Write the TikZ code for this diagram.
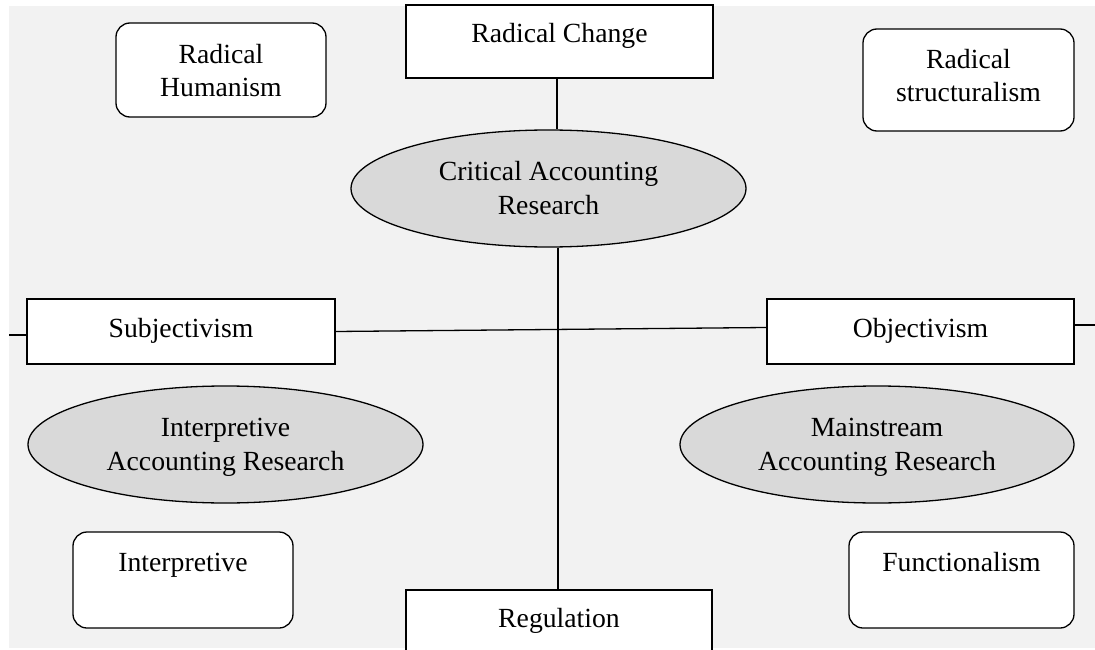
\documentclass[tikz,border=0pt]{standalone}
\usepackage{fontspec}
\setmainfont{Liberation Serif}
\usetikzlibrary{shapes.geometric}
\definecolor{panel}{RGB}{242,242,242}
\definecolor{ovalgray}{RGB}{217,217,217}
\tikzset{
  every node/.style={inner sep=0pt},
  sqbox/.style={rectangle, draw=black, line width=1.3pt, fill=white},
  rbox/.style={rectangle, rounded corners=14pt, draw=black, line width=1.3pt, fill=white},
  oval/.style={ellipse, draw=black, line width=1.3pt, fill=ovalgray},
  lbl/.style={anchor=base, font=\fontsize{27.7}{34}\selectfont},
  wire/.style={draw=black, line width=1.3pt}
}
\begin{document}
\begin{tikzpicture}[x=1pt, y=-1pt]
  \useasboundingbox (0,0) rectangle (1095,650);
  \clip (0,0) rectangle (1095,650);
  % panel
  \fill[panel] (9,6) rectangle (1095,648);

  % axis boxes
  \node[sqbox, minimum width=307pt, minimum height=73pt] (rc) at (559.5,41.5) {};
  \node[sqbox, minimum width=306pt, minimum height=120pt] (reg) at (559,650) {};
  \node[sqbox, minimum width=308pt, minimum height=65pt] (subj) at (181,331.5) {};
  \node[sqbox, minimum width=307pt, minimum height=65pt] (obj) at (920.5,331.5) {};

  % paradigm boxes
  \node[rbox, minimum width=210pt, minimum height=94pt] (rh) at (221,70) {};
  \node[rbox, minimum width=211pt, minimum height=102pt] (rs) at (968.5,80) {};
  \node[rbox, minimum width=220pt, minimum height=96pt] (ib) at (183,580) {};
  \node[rbox, minimum width=225pt, minimum height=96pt] (fb) at (961.5,580) {};

  % research ovals
  \node[oval, minimum width=395pt, minimum height=117pt] (cr) at (548.5,188.5) {};
  \node[oval, minimum width=395pt, minimum height=117pt] (ie) at (225.5,444.5) {};
  \node[oval, minimum width=394pt, minimum height=117pt] (me) at (877,444.5) {};

  % connectors
  \coordinate (leftend) at (9,335);
  \coordinate (rightend) at (1095,325);
  \draw[wire] ([xshift=-2.5pt]rc.south) -- ([xshift=-2.5pt]rc.south |- cr.north);
  \draw[wire] ([xshift=9.5pt]cr.south) -- ([xshift=9.5pt]cr.south |- reg.north);
  \draw[wire] (subj.east) -- ([yshift=4pt]obj.west);
  \draw[wire] (leftend) -- (leftend -| subj.west);
  \draw[wire] (rightend -| obj.east) -- (rightend);

  % labels
  \node[lbl] (trc) at (559.5,42.5) {Radical Change};
  \node[lbl] (treg) at (559,627) {Regulation};
  \node[lbl] (tsubj) at (181,337) {Subjectivism};
  \node[lbl] (tobj) at (920.5,337) {Objectivism};
  \node[lbl] (trh1) at (221,63.3) {Radical};
  \node[lbl] (trh2) at (221,96.7) {Humanism};
  \node[lbl] (trs1) at (968.5,68.5) {Radical};
  \node[lbl] (trs2) at (968.5,102) {structuralism};
  \node[lbl] (tib) at (183,571.5) {Interpretive};
  \node[lbl] (tfb) at (961.5,571.5) {Functionalism};
  \node[lbl] (tcr1) at (548.5,180.5) {Critical Accounting};
  \node[lbl] (tcr2) at (548.5,214.5) {Research};
  \node[lbl] (tie1) at (225.5,436.5) {Interpretive};
  \node[lbl] (tie2) at (225.5,470.5) {Accounting Research};
  \node[lbl] (tme1) at (877,436.5) {Mainstream};
  \node[lbl] (tme2) at (877,470.5) {Accounting Research};
\end{tikzpicture}
\end{document}
